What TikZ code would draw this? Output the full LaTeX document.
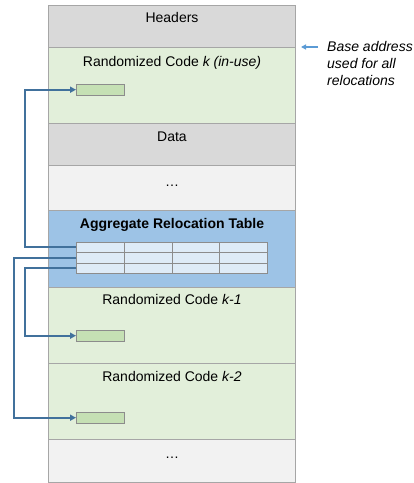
\documentclass[tikz,border=0pt]{standalone}
\usepackage{fontspec}
\setmainfont{Liberation Sans}
\definecolor{hdrgray}{HTML}{D9D9D9}
\definecolor{dotgray}{HTML}{F2F2F2}
\definecolor{codegreen}{HTML}{E2EFDA}
\definecolor{slotgreen}{HTML}{C5E0B4}
\definecolor{relblue}{HTML}{9DC3E6}
\definecolor{cellblue}{HTML}{DEEBF7}
\definecolor{edgegray}{HTML}{A6A6A6}
\definecolor{cellgray}{HTML}{8C8C8C}
\definecolor{ptrblue}{HTML}{41719C}
\definecolor{baseblue}{HTML}{5B9BD5}
\usepackage{tikz}
\usetikzlibrary{arrows.meta, positioning}

\begin{document}
\begin{tikzpicture}[x=1pt, y=-1pt, font=\fontsize{14}{17}\selectfont,
  section/.style={draw=edgegray, line width=1pt, minimum width=247pt, inner sep=0pt, anchor=north west},
  title/.style={anchor=base, inner sep=0pt},
  slot/.style={draw=cellgray, fill=slotgreen, minimum width=48pt, minimum height=11pt, inner sep=0pt, anchor=north west},
  cell/.style={draw=cellgray, fill=cellblue, minimum width=48pt, minimum height=10.4pt, inner sep=0pt, anchor=north west},
  ptr/.style={draw=ptrblue, line width=2pt, -{Triangle[length=6pt,width=6pt]}},
  baseptr/.style={draw=baseblue, line width=1.5pt, -{Triangle[length=5pt,width=5pt]}}]
\useasboundingbox (0,0) rectangle (414,483);

% memory layout, top to bottom
\node[section, fill=hdrgray, minimum height=42pt] (headers) at (48,5) {};
\node[section, fill=codegreen, minimum height=76pt] (codek) at (48,47) {};
\node[section, fill=hdrgray, minimum height=42pt] (data) at (48,123) {};
\node[section, fill=dotgray, minimum height=45pt] (gapa) at (48,165) {};
\node[section, fill=relblue, minimum height=77pt] (reltab) at (48,210) {};
\node[section, fill=codegreen, minimum height=76pt] (codek1) at (48,287) {};
\node[section, fill=codegreen, minimum height=76pt] (codek2) at (48,363) {};
\node[section, fill=dotgray, minimum height=43pt] (gapb) at (48,439) {};

\node[title] (headers-t) at ([yshift=-17pt]headers.north) {Headers};
\node[title] (codek-t) at ([yshift=-19pt]codek.north) {Randomized Code \textit{k (in-use)}};
\node[title] (data-t) at ([yshift=-18pt]data.north) {Data};
\node[title] (gapa-t) at ([yshift=-21pt]gapa.north) {\dots};
\node[title] (reltab-t) at ([yshift=-18pt]reltab.north) {\textbf{Aggregate Relocation Table}};
\node[title] (codek1-t) at ([yshift=-17pt]codek1.north) {Randomized Code \textit{k-1}};
\node[title] (codek2-t) at ([yshift=-18pt]codek2.north) {Randomized Code \textit{k-2}};
\node[title] (gapb-t) at ([yshift=-19pt]gapb.north) {\dots};

% relocated slots in each code copy
\node[slot] (slotk) at (76,84) {};
\node[slot] (slotk1) at (76,330) {};
\node[slot] (slotk2) at (76,412) {};

% relocation table entries
\foreach \r in {1,2,3}
  \foreach \c in {1,...,4}
    \node[cell] (cell-\r-\c) at ({76+(\c-1)*47.75}, {242+(\r-1)*10.4}) {};

\draw[ptr] (cell-1-1.west) -- ++(-51,0) |- (slotk.west);
\draw[ptr] (cell-2-1.west) -- ++(-62,0) |- (slotk2.west);
\draw[ptr] (cell-3-1.west) -- ++(-51,0) |- (slotk1.west);

% base address note
\node[anchor=north west, align=left, inner sep=0pt, font=\fontsize{14}{17}\selectfont\itshape] (basenote) at (327,41) {Base address\\used for all\\relocations};
\coordinate (basefrom) at (318,47);
\draw[baseptr] (basefrom) -- ([xshift=5pt]codek.north east);
\end{tikzpicture}
\end{document}
